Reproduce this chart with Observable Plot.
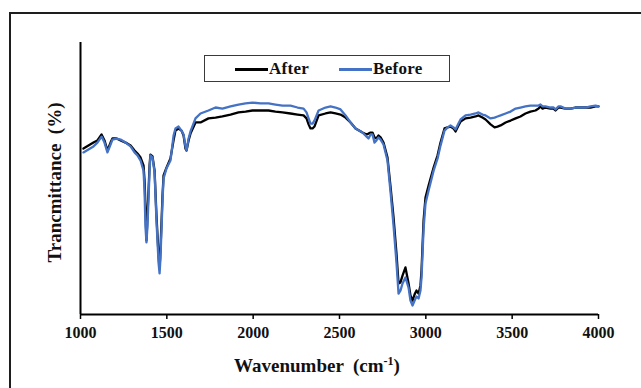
<!DOCTYPE html>
<html>
<head>
<meta charset="utf-8">
<script src="https://cdn.jsdelivr.net/npm/d3@7"></script>
<script src="https://cdn.jsdelivr.net/npm/@observablehq/plot@0.6"></script>
<style>
  html, body { margin: 0; padding: 0; background: #fff; overflow: hidden; }
  #wrap { position: relative; width: 641px; height: 388px; overflow: hidden; font-family: 'Liberation Serif', 'Times New Roman', serif; }
  #frame { position: absolute; left: 9px; top: 12px; width: 800px; height: 500px; border: 2px solid #1e1e1e; box-sizing: border-box; }
  #chart { position: absolute; left: 0; top: 0; }
  #chart svg text { font-family: 'Liberation Serif', 'Times New Roman', serif; }
  #legend { position: absolute; left: 204px; top: 55px; width: 246px; height: 27px; border: 1.5px solid #3a3a3a; box-sizing: border-box; background: #fff; }
  .lg-line { position: absolute; top: 12px; height: 2.5px; width: 33px; }
  .lg-text { position: absolute; top: 3px; font-family: 'Liberation Serif', 'Times New Roman', serif; font-size: 17px; font-weight: bold; line-height: 20px; letter-spacing: 0.3px; color: #111; }
  #xtitle { position: absolute; left: 317px; top: 356px; transform: translateX(-50%); font-family: 'Liberation Serif', 'Times New Roman', serif; font-size: 19px; font-weight: bold; white-space: pre; line-height: 20px; color: #111; }
  #xtitle sup { font-size: 12px; vertical-align: 7px; line-height: 0; }
</style>
</head>
<body>
<div id="wrap">
  <div id="frame"></div>
  <div id="chart"></div>
  <div id="legend"></div>
  <div id="xtitle"></div>
</div>
<script>
// Wavenumber (cm-1)
const wavenumber = [1017,1046,1075,1098,1122,1139,1156,1174,1185,1209,1232,1261,1290,1313,1330,1348,1365,1371,1376,1382,1388,1400,1405,1417,1429,1440,1452,1458,1463,1475,1481,1498,1521,1539,1550,1568,1585,1597,1608,1614,1626,1637,1666,1695,1741,1782,1822,1869,1915,1956,1996,2043,2089,2129,2170,2216,2257,2292,2309,2321,2332,2344,2355,2379,2419,2448,2477,2506,2535,2564,2593,2633,2657,2668,2680,2691,2703,2714,2726,2738,2755,2778,2796,2813,2830,2842,2853,2865,2882,2900,2911,2923,2935,2946,2958,2969,2975,2987,2998,3016,3045,3068,3085,3108,3126,3143,3160,3172,3189,3201,3230,3259,3288,3305,3328,3346,3375,3398,3415,3433,3462,3491,3520,3548,3577,3606,3635,3653,3664,3676,3693,3722,3740,3751,3769,3780,3809,3838,3867,3896,3925,3954,3983,4000];
// Transmittance, "After" series (arbitrary %)
const after = [61.0,62.1,63.2,64.0,66.2,64.0,60.3,63.2,64.7,64.7,64.0,63.2,62.1,60.3,59.2,57.7,54.8,49.3,40.1,27.2,36.4,54.8,58.8,58.1,52.9,36.4,21.7,16.9,23.5,43.7,51.1,54.0,57.4,64.0,67.6,68.4,67.6,65.8,61.0,60.3,64.0,66.5,70.6,70.6,72.1,72.4,72.8,73.5,74.3,74.6,75.0,75.0,75.0,74.6,74.3,73.9,73.5,73.2,72.1,69.9,68.4,68.4,69.1,73.2,73.9,74.3,73.9,73.5,72.4,70.6,68.4,66.9,66.2,66.5,66.9,66.9,65.1,64.7,65.8,65.1,63.2,57.7,46.7,35.7,22.4,11.4,11.8,14.3,17.3,11.4,7.0,5.1,7.4,8.8,7.7,10.7,16.2,34.6,43.0,47.4,54.0,58.5,63.2,68.4,68.8,69.1,68.4,67.3,69.5,70.9,72.1,72.4,72.8,73.2,72.4,71.7,69.9,68.8,69.1,69.5,70.6,71.3,72.1,72.8,73.9,74.6,75.0,75.7,76.5,75.7,76.1,75.7,75.7,75.0,76.1,76.1,75.7,75.7,76.1,76.1,76.1,76.1,76.5,76.5];
// Transmittance, "Before" series (arbitrary %)
const before = [59.6,60.7,61.8,63.2,65.4,63.2,59.6,62.5,64.3,64.7,64.3,63.2,61.8,59.6,58.5,56.6,52.9,45.6,32.7,26.5,32.7,52.9,58.5,57.7,52.2,34.6,19.1,15.1,20.6,41.9,50.0,53.7,56.6,65.8,68.4,69.1,67.6,66.2,61.8,60.3,64.7,67.3,72.1,73.9,75.0,76.1,75.7,76.5,77.2,77.6,77.9,77.6,77.6,77.2,76.8,76.8,76.1,75.7,74.3,72.1,70.2,70.2,71.3,75.0,76.1,76.5,76.1,75.4,73.2,70.6,68.4,66.9,65.4,64.7,66.2,66.2,63.2,64.0,65.1,64.3,62.5,56.6,44.8,32.7,19.1,7.7,8.8,11.4,13.6,9.9,5.1,3.3,5.1,6.6,5.9,8.8,13.6,31.6,40.8,45.6,52.9,57.4,62.1,67.6,68.8,69.5,68.8,68.0,70.2,71.7,73.2,73.5,73.9,74.3,73.5,73.2,72.1,72.4,72.8,73.2,73.9,74.6,75.7,76.1,76.5,76.8,76.8,76.8,77.2,76.5,76.5,76.1,76.1,75.4,76.5,76.5,75.7,75.7,76.1,76.1,76.1,76.5,76.8,76.5];

const xTicks = [1000, 1500, 2000, 2500, 3000, 3500, 4000];
const seriesNames = ["After", "Before"];
const seriesColors = ["#000000", "#4472C4"];
const xTitle = "Wavenumber";
const xUnit = "cm";
const xUnitExp = "-1";
const yTitle = "Trancmittance  (%)";

const data = wavenumber.map((w, i) => ({w, after: after[i], before: before[i]}));

const chart = Plot.plot({
  width: 641,
  height: 388,
  marginLeft: 80,
  marginRight: 43,
  marginTop: 42,
  marginBottom: 74,
  style: {fontFamily: "'Liberation Serif', 'Times New Roman', serif", background: "transparent", color: "#111"},
  x: {domain: [1000, 4000]},
  y: {domain: [0, 100], axis: null},
  marks: [
    Plot.line(data, {x: "w", y: "after", stroke: seriesColors[0], strokeWidth: 2.3, curve: "linear"}),
    Plot.line(data, {x: "w", y: "before", stroke: seriesColors[1], strokeWidth: 2.3, curve: "linear"}),
    Plot.ruleY([0], {stroke: "#000", strokeWidth: 2}),
    Plot.ruleX([1000], {y1: 0, y2: 100, stroke: "#000", strokeWidth: 2}),
    Plot.axisX({ticks: xTicks, tickSize: 5, tickPadding: 7, tickFormat: d => String(d), fontSize: 16, fontWeight: "bold", label: null, stroke: "#000", strokeWidth: 1.5}),
    Plot.text([yTitle], {frameAnchor: "left", textAnchor: "middle", rotate: -90, dx: -26, dy: 4, fontSize: 19, fontWeight: "bold", fill: "#111"})
  ]
});
document.getElementById("chart").appendChild(chart);

// Legend
const legend = document.getElementById("legend");
const lgPos = [{line: 30, text: 64}, {line: 134, text: 168}];
seriesNames.forEach((name, i) => {
  const ln = document.createElement("div");
  ln.className = "lg-line";
  ln.style.left = lgPos[i].line + "px";
  ln.style.background = seriesColors[i];
  legend.appendChild(ln);
  const tx = document.createElement("div");
  tx.className = "lg-text";
  tx.style.left = lgPos[i].text + "px";
  tx.textContent = name;
  legend.appendChild(tx);
});

// X title with superscript
const xt = document.getElementById("xtitle");
xt.appendChild(document.createTextNode(xTitle + "  (" + xUnit));
const sup = document.createElement("sup");
sup.textContent = xUnitExp;
xt.appendChild(sup);
xt.appendChild(document.createTextNode(")"));
</script>
</body>
</html>
